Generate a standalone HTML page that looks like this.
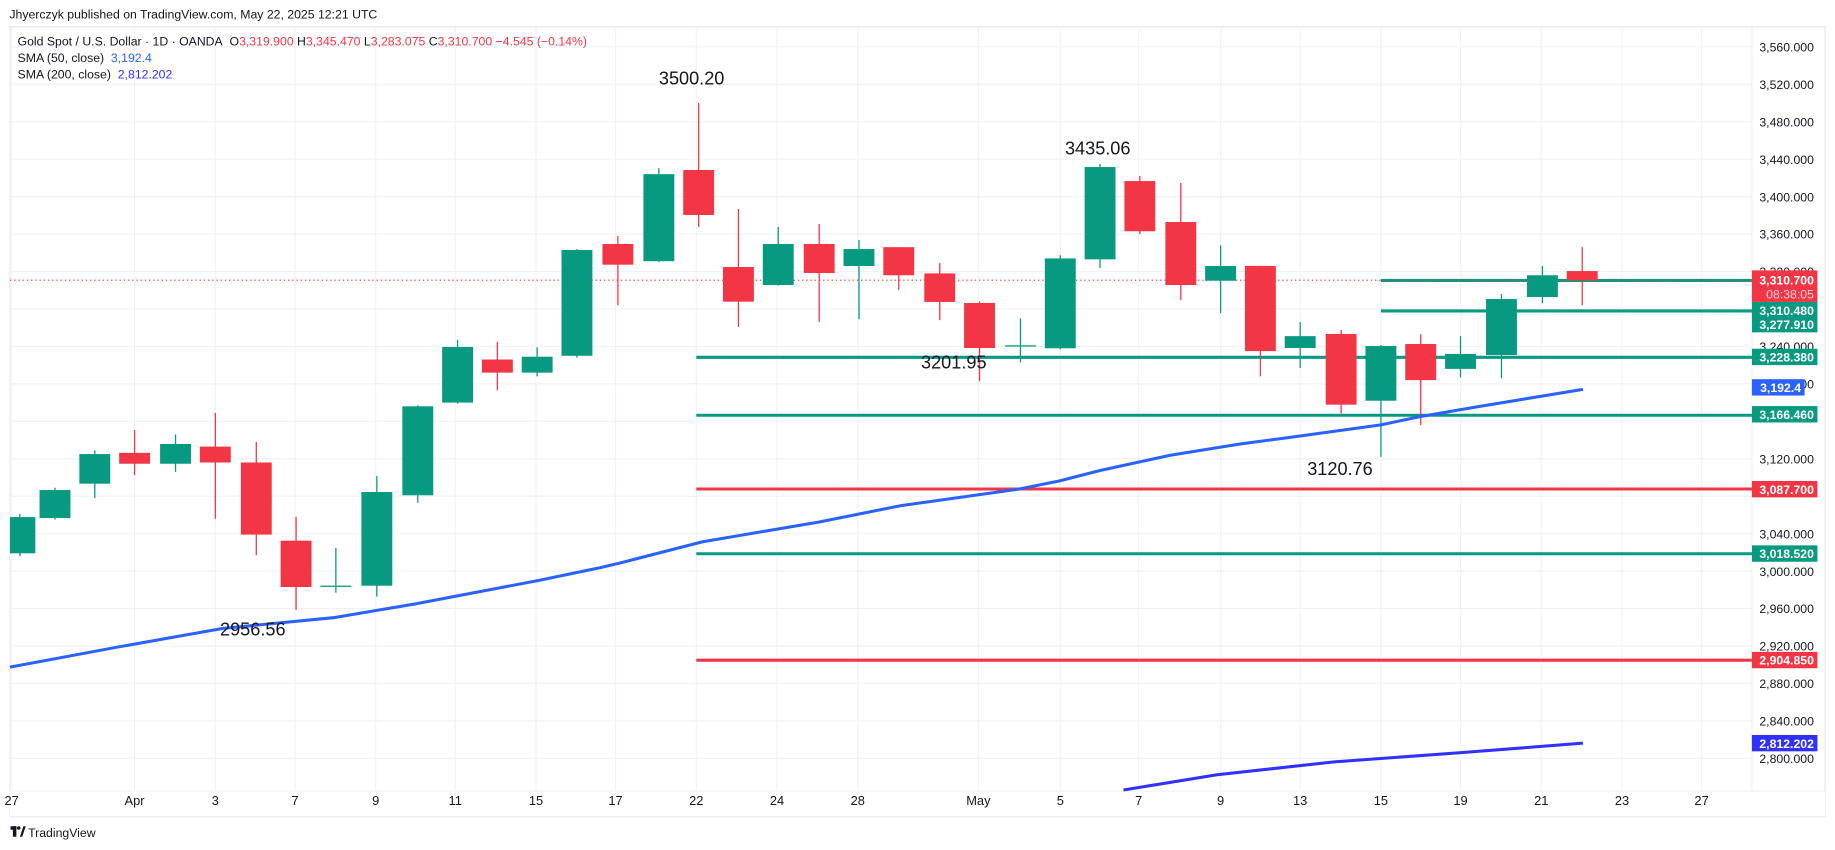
<!DOCTYPE html>
<html><head><meta charset="utf-8">
<style>
html,body{margin:0;padding:0;background:#fff;overflow:hidden}
svg{display:block}
text{font-family:"Liberation Sans","DejaVu Sans",sans-serif}
</style></head>
<body>
<svg id="s" width="1835" height="850" viewBox="0 0 1568 726.3" preserveAspectRatio="none" xmlns="http://www.w3.org/2000/svg">
<rect x="0" y="0" width="1568" height="726.3" fill="#fff"/>
<g id="grid" stroke="#f0f2f5" stroke-width="1"></g>
<rect x="8.5" y="22.8" width="1551" height="675" fill="none" stroke="#e8e8ea" stroke-width="1"/>
<line x1="1497" y1="22.8" x2="1497" y2="676" stroke="#f0f2f5"/>
<line x1="8.5" y1="676" x2="1559.5" y2="676" stroke="#f0f2f5"/>
<g id="levels"></g>
<line x1="8.5" y1="239.4" x2="1497" y2="239.4" stroke="#f23645" stroke-width="1" stroke-dasharray="1.2,2.4"/>
<g id="candles"></g>
<polyline fill="none" stroke="#2962ff" stroke-width="2.6" stroke-linejoin="round" points="8.5,570 100,553 190,537 284.8,527.8 355,516 460,496 513,485 530,481 600,463 700,446 770,432 870,418 905,411 940,402 1000,389 1059.6,379.4 1100,374 1180,363 1213.4,356 1260,348 1352.6,332.7"/>
<polyline fill="none" stroke="#3030ff" stroke-width="2.6" points="960,675 1040,662 1140,651 1250,643 1352.6,635"/>
<rect x="8.5" y="676.5" width="1551" height="21" fill="#fff"/>
<g font-size="11" fill="#131722" text-anchor="middle">
<text x="10" y="688">27</text><text x="115" y="688">Apr</text><text x="184" y="688">3</text><text x="252" y="688">7</text><text x="321" y="688">9</text><text x="389" y="688">11</text><text x="458" y="688">15</text><text x="526" y="688">17</text><text x="595" y="688">22</text><text x="664" y="688">24</text><text x="733" y="688">28</text><text x="836" y="688">May</text><text x="906" y="688">5</text><text x="973" y="688">7</text><text x="1043" y="688">9</text><text x="1111" y="688">13</text><text x="1180" y="688">15</text><text x="1248" y="688">19</text><text x="1317" y="688">21</text><text x="1386" y="688">23</text><text x="1454" y="688">27</text>
</g>
<g id="yl" font-size="10.5" fill="#131722" text-anchor="end"></g>
<g font-size="10.5" font-weight="bold" fill="#fff" text-anchor="end">
<rect x="1497" y="231" width="56" height="27" fill="#f23645"/><text x="1550" y="243">3,310.700</text><text x="1550" y="255" fill="#fbd0d4" font-weight="normal">08:38:05</text>
<rect x="1497" y="258" width="56" height="26" fill="#089981"/><text x="1550" y="269">3,310.480</text><text x="1550" y="281">3,277.910</text>
<rect x="1497" y="298" width="56" height="14" fill="#089981"/><text x="1550" y="309">3,228.380</text>
<rect x="1497" y="324" width="45" height="14" fill="#2962ff"/><text x="1539" y="335">3,192.4</text>
<rect x="1497" y="347" width="56" height="14" fill="#089981"/><text x="1550" y="358">3,166.460</text>
<rect x="1497" y="411" width="56" height="14" fill="#f23645"/><text x="1550" y="422">3,087.700</text>
<rect x="1497" y="466" width="56" height="14" fill="#089981"/><text x="1550" y="477">3,018.520</text>
<rect x="1497" y="557" width="56" height="14" fill="#f23645"/><text x="1550" y="568">2,904.850</text>
<rect x="1497" y="628" width="56" height="14" fill="#3030ff"/><text x="1550" y="639">2,812.202</text>
</g>
<g font-size="15.5" fill="#131722" text-anchor="middle">
<text x="591" y="72">3500.20</text><text x="938" y="132">3435.06</text><text x="815" y="315">3201.95</text><text x="216" y="543">2956.56</text><text x="1145" y="406">3120.76</text>
</g>
<text x="8" y="16" font-size="10.5" fill="#131722">Jhyerczyk published on TradingView.com, May 22, 2025 12:21 UTC</text>
<text x="15" y="39" font-size="10.5" fill="#131722">Gold Spot / U.S. Dollar · 1D · OANDA&#160; O<tspan fill="#f23645">3,319.900</tspan> H<tspan fill="#f23645">3,345.470</tspan> L<tspan fill="#f23645">3,283.075</tspan> C<tspan fill="#f23645">3,310.700</tspan> <tspan fill="#f23645">−4.545 (−0.14%)</tspan></text>
<text x="15" y="53" font-size="10.5" fill="#131722">SMA (50, close)&#160; <tspan fill="#2962ff">3,192.4</tspan></text>
<text x="15" y="67" font-size="10.5" fill="#131722">SMA (200, close)&#160; <tspan fill="#3030ff">2,812.202</tspan></text>
<g fill="#131722"><rect x="9" y="706" width="5" height="3"/><rect x="11" y="706" width="3" height="9"/><circle cx="16" cy="707.5" r="1.5"/><path d="M17 715 L20 706 L22 706 L19 715Z"/></g>
<text x="24" y="715" font-size="10.5" fill="#131722">TradingView</text>
</svg>
<script>
var NS="http://www.w3.org/2000/svg";
function Y(p){return 40+(3560-p)*0.8;}
function el(t,a,parent){var e=document.createElementNS(NS,t);for(var k in a)e.setAttribute(k,a[k]);document.getElementById(parent).appendChild(e);return e;}
[10,115,184,252,321,389,458,526,595,664,733,836,906,973,1043,1111,1180,1248,1317,1386,1454].forEach(function(x){el("line",{x1:x,y1:22.8,x2:x,y2:676},"grid");});
for(var p=3560;p>=2800;p-=40){el("line",{x1:8.5,y1:Y(p),x2:1497,y2:Y(p)},"grid");
 if([3280,3160,3080].indexOf(p)<0){var t=el("text",{x:1550,y:Y(p)+4},"yl");t.textContent=(p/1000|0)+","+String(p%1000).padStart(3,"0")+".000";}}
[[3310.48,1180,"#089981"],[3277.91,1180,"#089981"],[3228.38,595,"#089981"],[3166.46,595,"#089981"],[3087.7,595,"#f23645"],[3018.52,595,"#089981"],[2904.85,595,"#f23645"]].forEach(function(l){el("line",{x1:l[1],y1:Y(l[0]),x2:1497,y2:Y(l[0]),stroke:l[2],"stroke-width":2.6},"levels");});
var d=[[17,3019,3061,3016,3057.7],[47,3056.7,3089,3055,3086.6],[81,3093.4,3129,3078,3125],[115,3126.3,3150.7,3102.6,3114.7],[150,3114.7,3146,3106,3135.8],[184,3133,3168.9,3056,3116],[219,3116,3138,3017,3039],[253,3032.5,3058,2958.5,2983],[287,2984,3024.6,2977,2984.5],[322,2984.4,3101.6,2972.7,3084.5],[357,3081,3177,3073,3176],[391,3180,3247,3179,3239.4],[425,3226,3245,3193,3212],[459,3212,3239,3208,3229],[493,3230,3344,3228,3343],[528,3349.4,3358,3284,3327.3],[563,3331,3430.5,3330,3424],[597,3428.4,3500,3367.5,3380.4],[631,3324.8,3386.8,3260.8,3287.8],[665,3305.6,3367.5,3305,3349.4],[700,3349.4,3370.7,3266,3318.4],[734,3325.9,3353.7,3269,3344],[768,3346,3346,3300,3316],[803,3318,3329,3268,3287.5],[837,3286.4,3288,3203,3238.3],[872,3240.8,3270,3223,3241.2],[906,3238,3337.5,3237,3334],[940,3333,3434.9,3323.7,3431.6],[974,3416.6,3422,3360,3363],[1009,3372.9,3414.5,3289.6,3305.6],[1043,3310.2,3348,3275.6,3325.9],[1077,3326,3326,3208,3235],[1111,3238.3,3266,3217,3251],[1146,3253.3,3257.5,3168.5,3177.8],[1180,3182,3241.5,3122,3240.4],[1214,3242.6,3253,3156,3204],[1248,3216,3251,3207,3232],[1283,3230.8,3296,3206,3290.6],[1318,3292.7,3326,3286,3316],[1352,3320.5,3346,3284,3310.7]];
d.forEach(function(c){var x=c[0],o=c[1],h=c[2],l=c[3],cl=c[4];var col=cl>=o?"#089981":"#f23645";
 el("line",{x1:x,y1:Y(h),x2:x,y2:Y(l),stroke:col,"stroke-width":1.1},"candles");
 var top=Y(Math.max(o,cl)),bot=Y(Math.min(o,cl));var hgt=Math.max(bot-top,1.1);
 var x0=Math.max(x-13.2,8.5);el("rect",{x:x0,y:top,width:x+13.2-x0,height:hgt,fill:col},"candles");});
</script>
</body></html>
